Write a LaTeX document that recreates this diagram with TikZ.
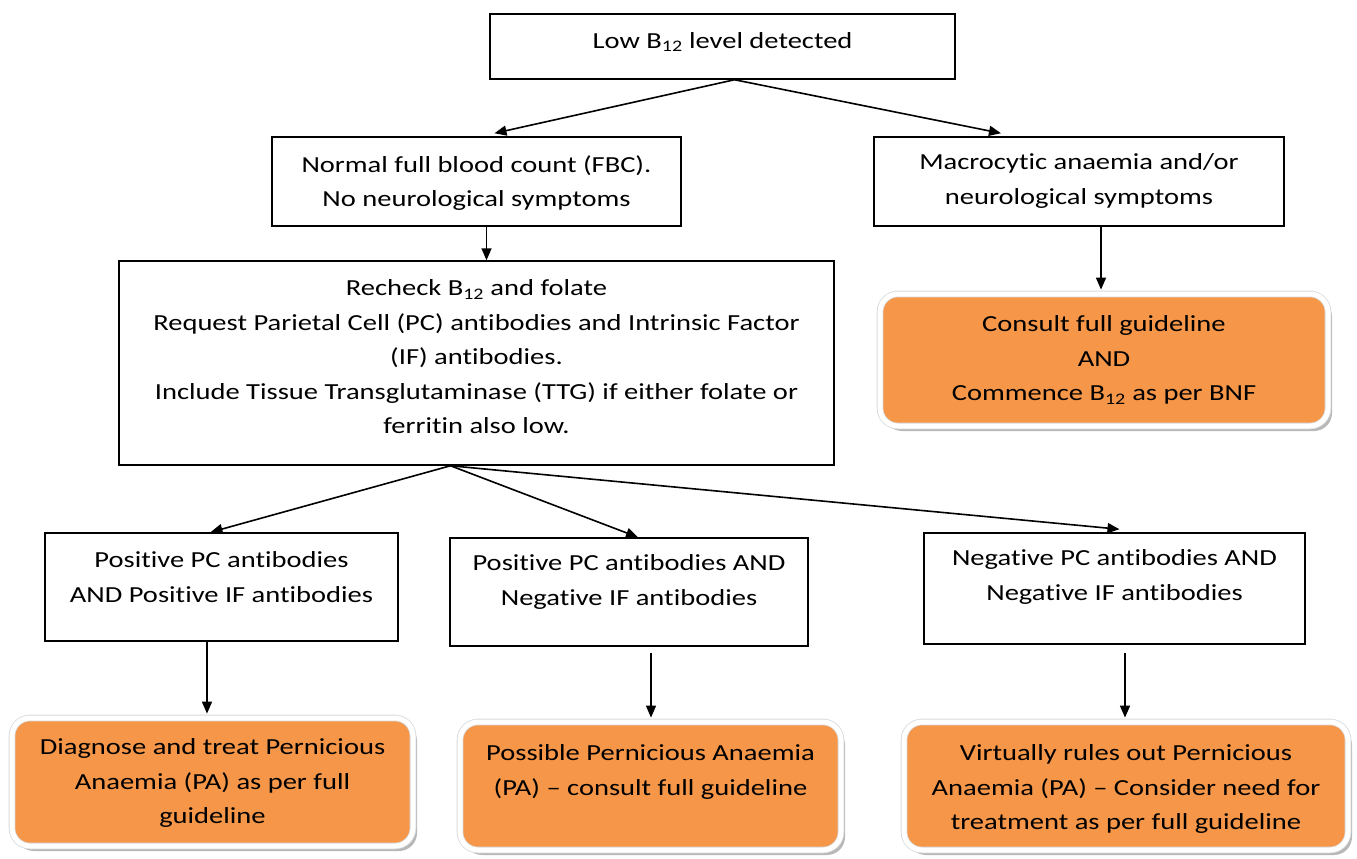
\documentclass[tikz,border=0pt]{standalone}
\usepackage{fontspec}
\setmainfont{Carlito}[FakeStretch=1.24,Ligatures={NoCommon}]
\usetikzlibrary{arrows.meta,calc,shadows}
\definecolor{orangeF}{RGB}{245,150,72}
\begin{document}
\begin{tikzpicture}[x=1pt,y=-1pt,
  box/.style={draw=black,line width=1.5pt,fill=white,inner sep=0pt},
  obox/.style={fill=orangeF,draw=gray!30,double=white,double distance=5pt,line width=0.8pt,rounded corners=18pt,inner sep=0pt,
     drop shadow={shadow xshift=4pt,shadow yshift=-5pt,fill=gray!70,opacity=0.8}},
  txt/.style={align=center,inner sep=0pt,font=\fontsize{23}{34.5}\selectfont},
  arr/.style={line width=1.6pt,-{Triangle[length=12pt,width=10pt]}}]
\useasboundingbox (0,0) rectangle (1357,859);
% boxes
\node[box,minimum width=465pt,minimum height=65pt] (top) at (722.5,46.5) {};
\node[box,minimum width=409pt,minimum height=89pt] (fbc) at (476.5,181.5) {};
\node[box,minimum width=410pt,minimum height=89pt] (mac) at (1079,181.5) {};
\node[box,minimum width=715pt,minimum height=204pt] (rec) at (476.5,363) {};
\node[obox,minimum width=448pt,minimum height=132pt] (con) at (1104,360) {};
\node[box,minimum width=353pt,minimum height=108pt] (pp) at (221.5,587) {};
\node[box,minimum width=358pt,minimum height=108pt] (pn) at (629,592) {};
\node[box,minimum width=381pt,minimum height=111pt] (nn) at (1114.5,588.5) {};
\node[obox,minimum width=401pt,minimum height=128pt] (o1) at (212.5,782) {};
\node[obox,minimum width=381pt,minimum height=128pt] (o2) at (650.5,786) {};
\node[obox,minimum width=444pt,minimum height=128pt] (o3) at (1126,786) {};
% texts
\node[txt] (top-t) at (722.5,42) {Low B\textsubscript{12} level detected};
\node[txt] (fbc-t) at (476.5,183) {Normal full blood count (FBC).\\No neurological symptoms};
\node[txt] (mac-t) at (1079,181) {Macrocytic anaemia and/or\\neurological symptoms};
\node[txt] (rec-t) at (476.5,357) {Recheck B\textsubscript{12} and folate\\Request Parietal Cell (PC) antibodies and Intrinsic Factor\\(IF) antibodies.\\Include Tissue Transglutaminase (TTG) if either folate or\\ferritin also low.};
\node[txt] (con-t) at (1104,360) {Consult full guideline\\AND\\Commence B\textsubscript{12} as per BNF};
\node[txt] (pp-t) at (221.5,577) {Positive PC antibodies\\AND Positive IF antibodies};
\node[txt] (pn-t) at (629,582) {Positive PC antibodies AND\\Negative IF antibodies};
\node[txt] (nn-t) at (1114.5,577) {Negative PC antibodies AND\\Negative IF antibodies};
\node[txt] (o1-t) at (212.5,783) {Diagnose and treat Pernicious\\Anaemia (PA) as per full\\guideline};
\node[txt] (o2-t) at (650.5,772) {Possible Pernicious Anaemia\\(PA) -- consult full guideline};
\node[txt] (o3-t) at (1126,789) {Virtually rules out Pernicious\\Anaemia (PA) -- Consider need for\\treatment as per full guideline};
% arrows
\draw[arr] ($(top.south)+(12,0)$) -- ($(fbc.north)+(18,-3)$);
\draw[arr] ($(top.south)+(12,0)$) -- ($(mac.north)+(-78,-3)$);
\draw[arr] ($(fbc.south)+(10,0)$) -- ($(rec.north)+(10,0)$);
\draw[arr] ($(mac.south)+(22,0)$) -- ($(con.north)+(-3,-4)$);
\draw[arr] ($(rec.south)+(-26,0)$) -- ($(pp.north)+(-11,0)$);
\draw[arr] ($(rec.south)+(-26,0)$) -- ($(pn.north)+(9,0)$);
\draw[arr] ($(rec.south)+(-26,0)$) -- ($(nn.north)+(5,-3)$);
\draw[arr] ($(pp.south)+(-14.5,0)$) -- ($(o1.north)+(-5.5,-4)$);
\draw[arr] ($(pn.south)+(22,6)$) -- ($(o2.north)+(0.5,-4)$);
\draw[arr] ($(nn.south)+(10.5,8)$) -- ($(o3.north)+(-1,-4)$);
\end{tikzpicture}
\end{document}
